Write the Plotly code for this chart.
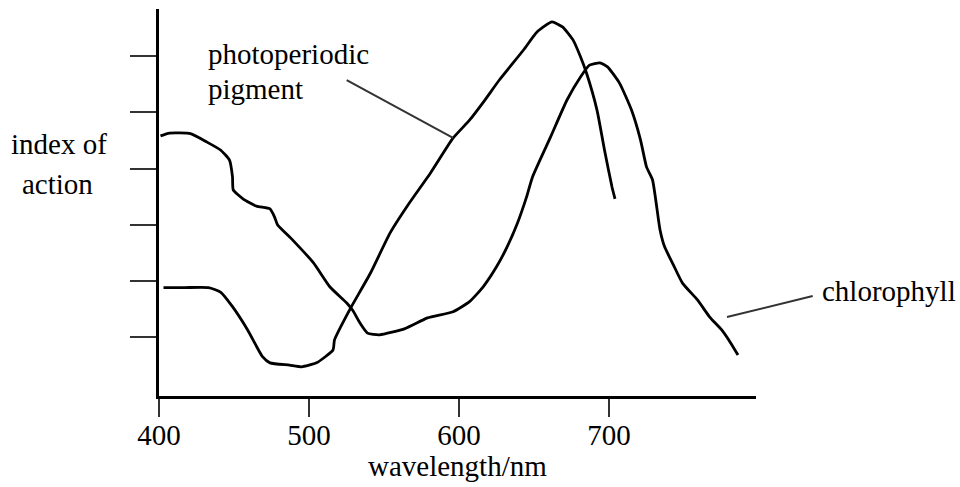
import plotly.graph_objects as go

# Photoperiodic pigment action spectrum (wavelength nm, index of action)
pigment_nm = [403, 417, 433, 441, 449, 459, 469, 474, 487, 495, 505, 516, 517,
              527, 541, 554, 567, 581, 596, 607, 617, 627, 643, 652, 662, 669,
              676, 681, 685, 692, 697, 702, 704]
pigment_val = [1.88, 1.88, 1.88, 1.80, 1.54, 1.13, 0.65, 0.54, 0.50, 0.47, 0.54,
               0.77, 0.95, 1.48, 2.14, 2.85, 3.39, 3.92, 4.54, 4.86, 5.21, 5.58,
               6.11, 6.43, 6.61, 6.52, 6.29, 5.99, 5.70, 5.04, 4.33, 3.67, 3.46]

# Chlorophyll action spectrum
chloro_nm = [401, 407, 421, 432, 441, 447, 449, 449.5, 456, 465, 474, 477, 479,
             489, 503, 514, 525, 529, 534, 539, 547, 564, 579, 596, 607, 616,
             625, 632, 639, 645, 649, 661, 672, 681, 687, 694, 699, 707, 715,
             721, 725, 729, 734, 737, 743, 749, 759, 767, 775, 781, 786]
chloro_val = [4.58, 4.63, 4.62, 4.47, 4.33, 4.15, 3.85, 3.62, 3.46, 3.33, 3.28,
              3.14, 3.00, 2.73, 2.32, 1.89, 1.61, 1.48, 1.25, 1.07, 1.04, 1.15,
              1.34, 1.45, 1.63, 1.89, 2.25, 2.60, 3.03, 3.49, 3.85, 4.56, 5.22,
              5.63, 5.84, 5.88, 5.81, 5.52, 5.04, 4.51, 4.03, 3.80, 2.91, 2.61,
              2.28, 1.96, 1.66, 1.36, 1.13, 0.90, 0.68]

x_tick_vals = [400, 500, 600, 700]
x_tick_text = ["400", "500", "600", "700"]
y_tick_vals = [1, 2, 3, 4, 5, 6]

FONT = "Liberation Serif, Times New Roman, serif"
FS = 29

fig = go.Figure()
fig.add_trace(go.Scatter(x=pigment_nm, y=pigment_val, mode="lines",
                         line=dict(color="black", width=2.8, shape="spline", smoothing=0.5),
                         name="photoperiodic pigment", hoverinfo="skip"))
fig.add_trace(go.Scatter(x=chloro_nm, y=chloro_val, mode="lines",
                         line=dict(color="black", width=2.8, shape="spline", smoothing=0.5),
                         name="chlorophyll", hoverinfo="skip"))

fig.update_layout(
    width=960, height=487,
    margin=dict(l=159, r=204, t=9, b=91),
    paper_bgcolor="white", plot_bgcolor="white",
    showlegend=False,
    font=dict(family=FONT, size=FS, color="black"),
    xaxis=dict(range=[400, 798], showgrid=False, zeroline=False,
               showline=True, linecolor="black", linewidth=3,
               tickmode="array", tickvals=x_tick_vals, ticktext=x_tick_text,
               ticks="outside", ticklen=18, tickwidth=1.5, tickcolor="#333",
               ticklabelstandoff=-7,
               tickfont=dict(family=FONT, size=FS, color="black")),
    yaxis=dict(range=[-0.05, 6.84], showgrid=False, zeroline=False,
               showline=True, linecolor="black", linewidth=3,
               tickmode="array", tickvals=y_tick_vals, showticklabels=False,
               ticks="outside", ticklen=26, tickwidth=1.5, tickcolor="#333"),
)

ann = dict(xref="paper", yref="paper", showarrow=False,
           font=dict(family=FONT, size=FS, color="black"))
fig.add_annotation(text="index of", x=-0.1675, y=0.651, xanchor="center", yanchor="middle", **ann)
fig.add_annotation(text="action", x=-0.170, y=0.548, xanchor="center", yanchor="middle", **ann)
fig.add_annotation(text="photoperiodic", x=0.0787, y=0.8837, xanchor="left", yanchor="middle", **ann)
fig.add_annotation(text="pigment", x=0.0787, y=0.7933, xanchor="left", yanchor="middle", **ann)
fig.add_annotation(text="chlorophyll", x=1.107, y=0.2713, xanchor="left", yanchor="middle", **ann)
fig.add_annotation(text="wavelength/nm", x=0.5008, y=-0.181, xanchor="center", yanchor="middle", **ann)

line_style = dict(color="#333", width=2)
fig.add_shape(type="line", xref="paper", yref="paper", x0=0.3144, y0=0.8165,
              x1=0.4925, y1=0.6667, line=line_style)
fig.add_shape(type="line", xref="paper", yref="paper", x0=1.095, y0=0.2584,
              x1=0.9514, y1=0.2041, line=line_style)

fig.write_html("out.html", config={"displayModeBar": False},
               post_script="document.body.style.margin='0';")
